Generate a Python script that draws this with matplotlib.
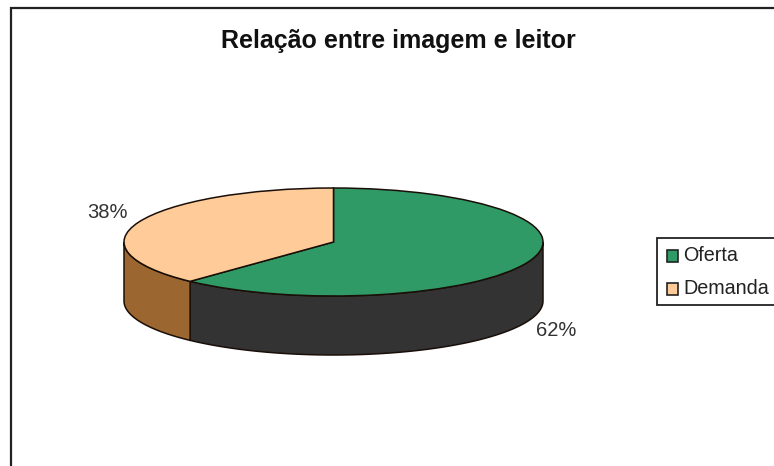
import numpy as np
import matplotlib
matplotlib.use("Agg")
import matplotlib.pyplot as plt
from matplotlib.patches import Rectangle, Polygon

categories = ["Oferta", "Demanda"]
values = [62, 38]
labels = ["62%", "38%"]
title = "Relação entre imagem e leitor"
top_colors = ["#2F9A66", "#FFCC99"]
wall_colors = ["#333333", "#9C6630"]

W, H = 774, 466
plt.rcParams["font.family"] = ["Liberation Sans", "DejaVu Sans"]
fig = plt.figure(figsize=(W / 100, H / 100), dpi=100, facecolor="white")

# page-level layer in pixel coordinates
bg = fig.add_axes([0, 0, 1, 1])
bg.set_xlim(0, W)
bg.set_ylim(H, 0)
bg.axis("off")
bg.add_patch(Rectangle((11, 8), W + 20, H + 20, fc="white", ec="#222222", lw=1.6))
bg.text(398, 41, title, ha="center", va="center", fontsize=18, fontweight="bold", color="#111111")

# pie placement
L, R, T, FB = 124, 543, 188, 355
ry_px = 54
depth = (FB - T - 2 * ry_px) / ry_px
ax = fig.add_axes([L / W, 1 - FB / H, (R - L) / W, (FB - T) / H])
wedges, _ = ax.pie(values, colors=top_colors, startangle=90, counterclock=False, radius=1,
                   wedgeprops=dict(edgecolor="#1a0f08", linewidth=1.1, clip_on=False, zorder=3))
ax.set_aspect("auto")
ax.set_xlim(-1, 1)
ax.set_ylim(-1 - depth, 1)
ax.axis("off")

# side walls follow the same slice angles
split = 90 - 360 * values[0] / sum(values)
spans = [(0, split), (split, -180)]
for (a0, a1), c in zip(spans, wall_colors):
    t = np.radians(np.linspace(a0, a1, 120))
    x, y = np.cos(t), np.sin(t)
    pts = np.r_[np.c_[x, y], np.c_[x[::-1], y[::-1] - depth]]
    ax.add_patch(Polygon(pts, closed=True, fc=c, ec="#1a0f08", lw=1.1, zorder=2, clip_on=False))

# value labels
bg.text(107, 212, labels[1], ha="center", va="center", fontsize=14.5, color="#333333")
bg.text(556, 330, labels[0], ha="center", va="center", fontsize=14.5, color="#333333")

# legend
bg.add_patch(Rectangle((657, 238), W, 67, fc="white", ec="#222222", lw=1.3, zorder=4))
for yy, name, c in zip([255.5, 289], categories, top_colors):
    bg.add_patch(Rectangle((667, yy - 6), 11, 12, fc=c, ec="#222222", lw=1.2, zorder=5))
    bg.text(683, yy, name, ha="left", va="center", fontsize=14.2, color="#222222", zorder=5)

fig.savefig("out.png", dpi=100)
